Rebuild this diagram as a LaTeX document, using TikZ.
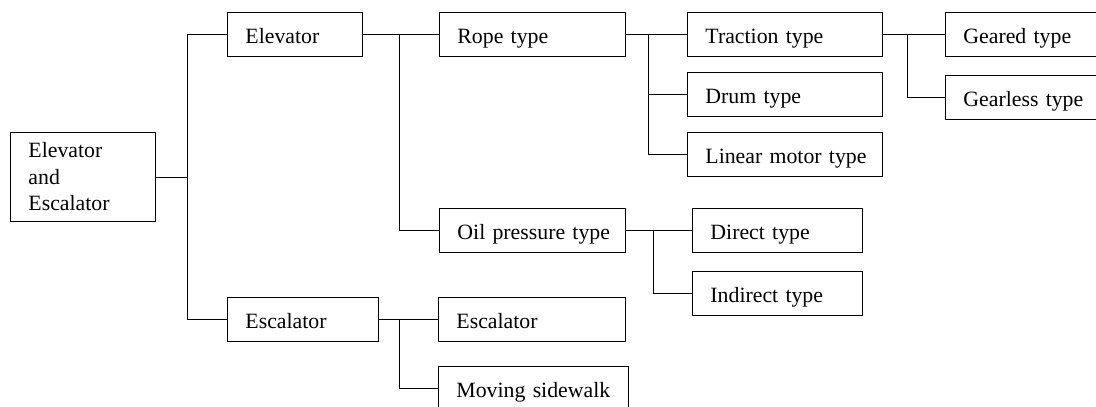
\documentclass[tikz,border=0pt]{standalone}
\usepackage{fontspec}
\setmainfont{Liberation Serif}
\begin{document}
\begin{tikzpicture}[x=1pt,y=-1pt,
  box/.style={draw, line width=0.9pt, anchor=north west, inner xsep=0pt, inner ysep=0pt,
    minimum height=44pt, align=left, text height=18pt, text depth=0pt,
    execute at begin node={\hspace*{18pt}},
    font=\fontsize{21.8}{26.5}\selectfont},
  rootbox/.style={draw, line width=0.9pt, anchor=north west, inner xsep=18pt, inner ysep=0pt,
    minimum height=89pt, align=left,
    font=\fontsize{21.8}{26.5}\selectfont},
  link/.style={line width=0.9pt}]
\useasboundingbox (0,0) rectangle (1096,407);
\clip (0,0) rectangle (1096,407);

% level 0
\node[rootbox, text width=109pt] (root) at (10,132) {Elevator\\and\\Escalator};

% level 1
\node[box, text width=135pt] (elev) at (227,12)  {Elevator};
\node[box, text width=151pt] (esc)  at (227,297) {Escalator};

% level 2
\node[box, text width=186pt] (rope) at (439,12)  {Rope type};
\node[box, text width=186pt] (oil)  at (439,208) {Oil pressure type};
\node[box, text width=187pt] (escc) at (438,297) {Escalator};
\node[box, text width=190pt] (walk) at (438,366) {Moving sidewalk};

% level 3
\node[box, text width=195pt] (trac) at (687,12)  {Traction type};
\node[box, text width=195pt] (drum) at (687,72)  {Drum type};
\node[box, text width=195pt] (lin)  at (687,132) {Linear motor type};
\node[box, text width=170pt] (dir)  at (692,208) {Direct type};
\node[box, text width=170pt] (ind)  at (692,271) {Indirect type};

% level 4
\node[box, text width=165pt] (gear) at (945,12)  {Geared type};
\node[box, text width=165pt] (gls)  at (945,75)  {Gearless type};

% connectors
\draw[link] (root.east) -- ++(32,0) |- (elev.west);
\draw[link] (root.east) -- ++(32,0) |- (esc.west);

\draw[link] (elev.east) -- (rope.west);
\draw[link] (elev.east) -- ++(37,0) |- (oil.west);

\draw[link] (esc.east) -- (escc.west);
\draw[link] (esc.east) -- ++(21,0) |- (walk.west);

\draw[link] (rope.east) -- (trac.west);
\draw[link] (rope.east) -- ++(23,0) |- (drum.west);
\draw[link] (rope.east) -- ++(23,0) |- (lin.west);

\draw[link] (oil.east) -- (dir.west);
\draw[link] (oil.east) -- ++(28,0) |- (ind.west);

\draw[link] (trac.east) -- (gear.west);
\draw[link] (trac.east) -- ++(25,0) |- (gls.west);
\end{tikzpicture}
\end{document}
